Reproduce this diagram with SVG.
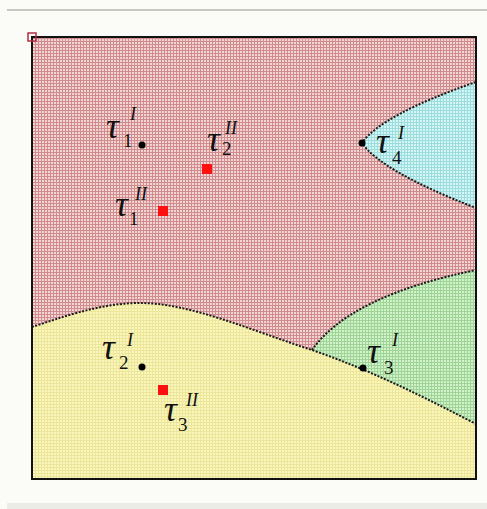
<svg xmlns="http://www.w3.org/2000/svg" width="487" height="509" viewBox="0 0 487 509">
<defs>
<pattern id="pRed" width="3" height="3" patternUnits="userSpaceOnUse">
<rect width="3" height="3" fill="#f2d6d6"/><rect x="2" width="1" height="3" fill="#d08c8c"/><rect y="2" width="3" height="1" fill="#d08c8c"/>
</pattern>
<pattern id="pYel" width="3" height="3" patternUnits="userSpaceOnUse">
<rect width="3" height="3" fill="#faf6bc"/><rect x="2" width="1" height="3" fill="#ece69a"/><rect y="2" width="3" height="1" fill="#ece69a"/>
</pattern>
<pattern id="pGrn" width="3" height="3" patternUnits="userSpaceOnUse">
<rect width="3" height="3" fill="#d2f2cc"/><rect x="2" width="1" height="3" fill="#9ed496"/><rect y="2" width="3" height="1" fill="#9ed496"/>
</pattern>
<pattern id="pCyn" width="3" height="3" patternUnits="userSpaceOnUse">
<rect width="3" height="3" fill="#d4f6f6"/><rect x="2" width="1" height="3" fill="#9cdcdc"/><rect y="2" width="3" height="1" fill="#9cdcdc"/>
</pattern>
</defs>
<style>
.b{fill:none;stroke:#1a1a1a;stroke-width:2;stroke-dasharray:2 1.5}
.t{font-family:"Liberation Serif",serif;font-style:italic;fill:#111}
.tau{font-size:36px}
.sub{font-size:19px;font-style:normal}
.sup{font-size:18px}
.dot{fill:#000}
.sq{fill:#ff1010}
</style>
<rect width="487" height="509" fill="#fbfbf8"/>
<rect x="7" y="9" width="480" height="2" fill="#c8c8c0"/>
<rect x="7" y="503" width="480" height="6" fill="#ecece6"/>
<g id="regions">
<rect x="32" y="37" width="444" height="442" fill="url(#pRed)"/>
<path d="M32,327 C60,318 100,303 140,303 C190,303 250,330 312,350 C370,370 420,395 476,424 L476,479 L32,479 Z" fill="url(#pYel)"/>
<path d="M312,350 Q350,296 476,270 L476,424 C420,395 370,370 312,350 Z" fill="url(#pGrn)"/>
<path d="M476,82 Q381,115 362,143 Q381,171 476,208 Z" fill="url(#pCyn)"/>
</g>
<g id="connectors">
<path class="b" d="M32,327 C60,318 100,303 140,303 C190,303 250,330 312,350 C370,370 420,395 476,424"/>
<path class="b" d="M312,350 Q350,296 476,270"/>
<path class="b" d="M476,82 Q381,115 362,143 Q381,171 476,208"/>
</g>
<rect x="32" y="37" width="444" height="442" fill="none" stroke="#111" stroke-width="2"/>
<rect x="28" y="33" width="8" height="8" fill="none" stroke="#b03040" stroke-width="1.5"/>
<g id="t1I" class="t"><text class="tau" x="106" y="138">τ</text><text class="sub" x="123" y="147">1</text><text class="sup" x="130" y="120">I</text><circle class="dot" cx="142" cy="145" r="3.5"/></g>
<g id="t2II" class="t"><text class="tau" x="207" y="151">τ</text><text class="sub" x="222" y="155">2</text><text class="sup" x="225" y="134">II</text><rect class="sq" x="202" y="164" width="10" height="10"/></g>
<g id="t1II" class="t"><text class="tau" x="115" y="216">τ</text><text class="sub" x="129" y="225">1</text><text class="sup" x="135" y="200">II</text><rect class="sq" x="158" y="206" width="10" height="10"/></g>
<g id="t4I" class="t"><text class="tau" x="376" y="153">τ</text><text class="sub" x="392" y="164">4</text><text class="sup" x="398" y="139">I</text><circle class="dot" cx="362" cy="143" r="3.5"/></g>
<g id="t2I" class="t"><text class="tau" x="102" y="359">τ</text><text class="sub" x="119" y="369">2</text><text class="sup" x="127" y="346">I</text><circle class="dot" cx="142" cy="367" r="3.5"/></g>
<g id="t3II" class="t"><text class="tau" x="164" y="421">τ</text><text class="sub" x="178" y="431">3</text><text class="sup" x="186" y="406">II</text><rect class="sq" x="158" y="385" width="10" height="10"/></g>
<g id="t3I" class="t"><text class="tau" x="367" y="363">τ</text><text class="sub" x="384" y="374">3</text><text class="sup" x="392" y="346">I</text><circle class="dot" cx="363" cy="368" r="3.5"/></g>
</svg>
